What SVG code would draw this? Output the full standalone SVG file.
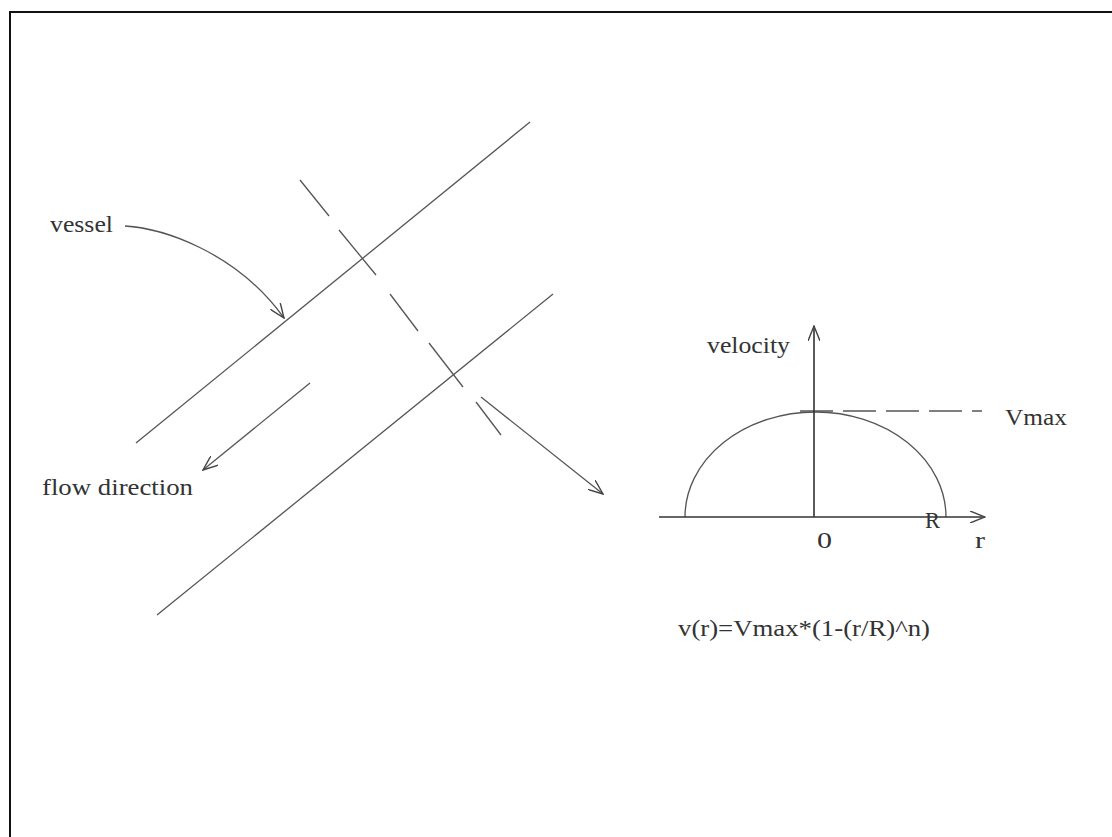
<svg xmlns="http://www.w3.org/2000/svg" width="1112" height="837" viewBox="0 0 1112 837">
<style>
.t{font-family:"Liberation Serif","DejaVu Serif",serif;font-size:24px;fill:#333}
.ln{stroke:#555;stroke-width:1.3;fill:none}
.ax{stroke:#333;stroke-width:1.6;fill:none}
</style>
<defs>
<marker id="ah" viewBox="0 0 16 12" refX="15" refY="6" markerWidth="16" markerHeight="12" markerUnits="userSpaceOnUse" orient="auto">
<path d="M0,0 L15,6 L0,12" fill="none" stroke="#444" stroke-width="1.4"/>
</marker>
</defs>
<rect width="1112" height="837" fill="#fff"/>
<rect x="10" y="12" width="1120" height="850" fill="none" stroke="#111" stroke-width="2"/>
<g id="vessel">
<line class="ln" x1="136" y1="443" x2="530" y2="122"/>
<line class="ln" x1="157" y1="615" x2="553" y2="294"/>
</g>
<g id="section">
<line class="ln" x1="300" y1="180" x2="329" y2="216"/>
<line class="ln" x1="339" y1="230" x2="376" y2="275"/>
<line class="ln" x1="390" y1="294" x2="418" y2="331"/>
<line class="ln" x1="429" y1="343" x2="463" y2="387"/>
<line class="ln" x1="476" y1="402" x2="501" y2="435"/>
</g>
<g id="labels">
<text class="t" x="50" y="232" textLength="63" lengthAdjust="spacingAndGlyphs">vessel</text>
<text class="t" x="42" y="495" textLength="151" lengthAdjust="spacingAndGlyphs">flow direction</text>
</g>
<g id="graph">
<path class="ln" d="M685,517 A130.5,105 0 0 1 946,517"/>
<line class="ln" x1="800" y1="411" x2="982" y2="411" stroke="#777" stroke-dasharray="33 10"/>
<line class="ax" x1="659" y1="517" x2="985" y2="517" marker-end="url(#ah)"/>
<line class="ax" x1="814" y1="517" x2="814" y2="326" marker-end="url(#ah)"/>
<text class="t" x="707" y="353" textLength="83" lengthAdjust="spacingAndGlyphs">velocity</text>
<text class="t" x="1005" y="425" textLength="62" lengthAdjust="spacingAndGlyphs">Vmax</text>
<text class="t" x="817" y="548" textLength="15" lengthAdjust="spacingAndGlyphs">0</text>
<text class="t" x="925" y="528" textLength="15" lengthAdjust="spacingAndGlyphs">R</text>
<text class="t" x="975" y="548" textLength="10" lengthAdjust="spacingAndGlyphs">r</text>
<text class="t" x="678" y="636" textLength="252" lengthAdjust="spacingAndGlyphs">v(r)=Vmax*(1-(r/R)^n)</text>
</g>
<g id="connectors">
<path class="ln" d="M125,226 C160,228 235,250 284,318" marker-end="url(#ah)"/>
<line class="ln" x1="310" y1="383" x2="203" y2="470" marker-end="url(#ah)"/>
<line class="ln" x1="481" y1="397" x2="603" y2="494" marker-end="url(#ah)"/>
</g>
</svg>
